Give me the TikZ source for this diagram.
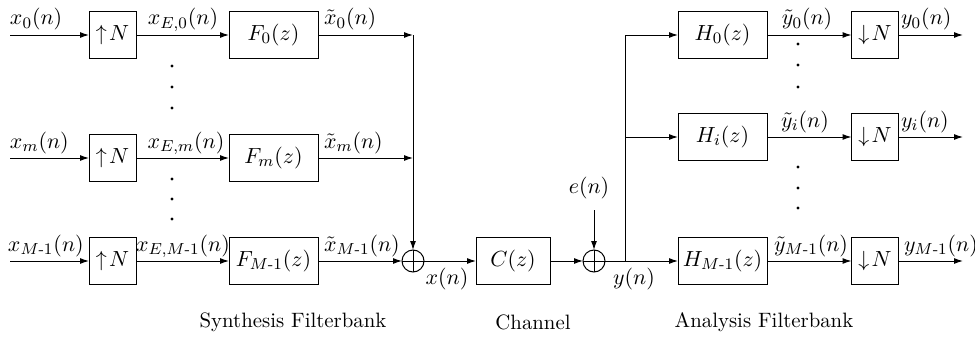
\documentclass[tikz,border=0pt]{standalone}
\usepackage{amsmath}
\usetikzlibrary{arrows.meta}
\newcommand{\MmOne}{{M\text{-}1}}
\begin{document}
\begin{tikzpicture}[x=0.5pt,y=-0.5pt,
  every node/.style={inner sep=0pt, outer sep=0pt},
  blk/.style={draw, line width=0.5pt, minimum height=23.5pt, font=\fontsize{11}{13}\selectfont},
  upbox/.style={blk, minimum width=23.5pt},
  fbox/.style={blk, minimum width=44.5pt},
  lab/.style={font=\fontsize{11}{13}\selectfont},
  txt/.style={font=\fontsize{10.4}{12}\selectfont},
  sumnode/.style={draw, circle, line width=0.5pt, minimum size=11pt,
    path picture={\draw[line width=0.5pt] (path picture bounding box.north) -- (path picture bounding box.south)
      (path picture bounding box.west) -- (path picture bounding box.east);}},
  dotnode/.style={circle, fill=black, minimum size=1.6pt},
  arr/.style={line width=0.5pt, -{Latex[length=4.5pt,width=3pt]}},
  ln/.style={line width=0.5pt}
]
\useasboundingbox (0,0) rectangle (975,337);

% synthesis
\coordinate (in0) at (10,35);
\coordinate (inm) at (10,158);
\coordinate (inM) at (10,261);
\node[upbox] (up0) at (112.5,35) {$\uparrow\! N$};
\node[upbox] (upm) at (112.5,158) {$\uparrow\! N$};
\node[upbox] (upM) at (112.5,261) {$\uparrow\! N$};
\node[fbox] (F0) at (273.5,35) {$F_0(z)$};
\node[fbox] (Fm) at (273.5,158) {$F_m(z)$};
\node[fbox] (FM) at (273.5,261) {$F_{\MmOne}(z)$};
\coordinate (c0) at (413,35);
\coordinate (cm) at (413,158);
\node[sumnode] (s1) at (413,261) {};

% channel
\node[blk, minimum width=37pt] (C) at (513,261) {$C(z)$};
\node[sumnode] (s2) at (594,261) {};
\coordinate (et) at (594,210);

% analysis
\coordinate (j0) at (625,35);
\coordinate (ji) at (625,137);
\coordinate (jM) at (625,261);
\node[fbox] (H0) at (722.5,35) {$H_0(z)$};
\node[fbox] (Hi) at (722.5,137) {$H_i(z)$};
\node[fbox] (HM) at (722.5,261) {$H_{\MmOne}(z)$};
\node[upbox] (D0) at (875,35) {$\downarrow\! N$};
\node[upbox] (Di) at (875,137) {$\downarrow\! N$};
\node[upbox] (DM) at (875,261) {$\downarrow\! N$};
\coordinate (o0) at (963,35);
\coordinate (oi) at (963,137);
\coordinate (oM) at (963,261);

% connectors
\draw[arr] (in0) -- (up0);
\draw[arr] (inm) -- (upm);
\draw[arr] (inM) -- (upM);
\draw[arr] (up0) -- (F0);
\draw[arr] (upm) -- (Fm);
\draw[arr] (upM) -- (FM);
\draw[arr] (F0) -- (c0);
\draw[arr] (Fm) -- (cm);
\draw[arr] (c0) -- (s1);
\draw[arr] (FM) -- (s1);
\draw[arr] (s1) -- (C);
\draw[arr] (C) -- (s2);
\draw[arr] (et) -- (s2);
\draw[ln] (s2) -- (jM);
\draw[ln] (j0) -- (jM);
\draw[arr] (j0) -- (H0);
\draw[arr] (ji) -- (Hi);
\draw[arr] (jM) -- (HM);
\draw[arr] (H0) -- (D0);
\draw[arr] (Hi) -- (Di);
\draw[arr] (HM) -- (DM);
\draw[arr] (D0) -- (o0);
\draw[arr] (Di) -- (oi);
\draw[arr] (DM) -- (oM);

% labels
\node[lab, anchor=base west] (lx0) at (10,25) {$x_0(n)$};
\node[lab, anchor=base west] (lxm) at (10,148) {$x_m(n)$};
\node[lab, anchor=base west] (lxM) at (8,251) {$x_{\MmOne}(n)$};
\node[lab, anchor=base] (lxe0) at (183,25) {$x_{E,0}(n)$};
\node[lab, anchor=base] (lxem) at (186,148) {$x_{E,m}(n)$};
\node[lab, anchor=base] (lxeM) at (183,251) {$x_{E,\MmOne}(n)$};
\node[lab, anchor=base west] (lt0) at (324,25) {$\tilde{x}_0(n)$};
\node[lab, anchor=base west] (ltm) at (324,148) {$\tilde{x}_m(n)$};
\node[lab, anchor=base west] (ltM) at (324,251) {$\tilde{x}_{\MmOne}(n)$};
\node[lab, anchor=base] (lx) at (447,284) {$x(n)$};
\node[lab, anchor=base] (le) at (589,193) {$e(n)$};
\node[lab, anchor=base] (ly) at (634,284) {$y(n)$};
\node[lab, anchor=base] (ly0) at (807,25) {$\tilde{y}_0(n)$};
\node[lab, anchor=base] (lyi) at (805,127) {$\tilde{y}_i(n)$};
\node[lab, anchor=base] (lyM) at (811,251) {$\tilde{y}_{\MmOne}(n)$};
\node[lab, anchor=base west] (lo0) at (901,25) {$y_0(n)$};
\node[lab, anchor=base west] (loi) at (901,127) {$y_i(n)$};
\node[lab, anchor=base west] (loM) at (904,251) {$y_{\MmOne}(n)$};

% dots
\node[dotnode] (d1) at (172,66) {};
\node[dotnode] (d2) at (172,87) {};
\node[dotnode] (d3) at (172,108) {};
\node[dotnode] (d4) at (172,179) {};
\node[dotnode] (d5) at (172,199) {};
\node[dotnode] (d6) at (172,219) {};
\node[dotnode] (d7) at (798,44) {};
\node[dotnode] (d8) at (798,65) {};
\node[dotnode] (d9) at (798,87) {};
\node[dotnode] (d10) at (798,167) {};
\node[dotnode] (d11) at (798,188) {};
\node[dotnode] (d12) at (798,208) {};

% captions
\node[txt] (synth) at (293,322) {Synthesis Filterbank};
\node[txt] (chan) at (533,322) {Channel};
\node[txt] (anal) at (764,322) {Analysis Filterbank};
\end{tikzpicture}
\end{document}
